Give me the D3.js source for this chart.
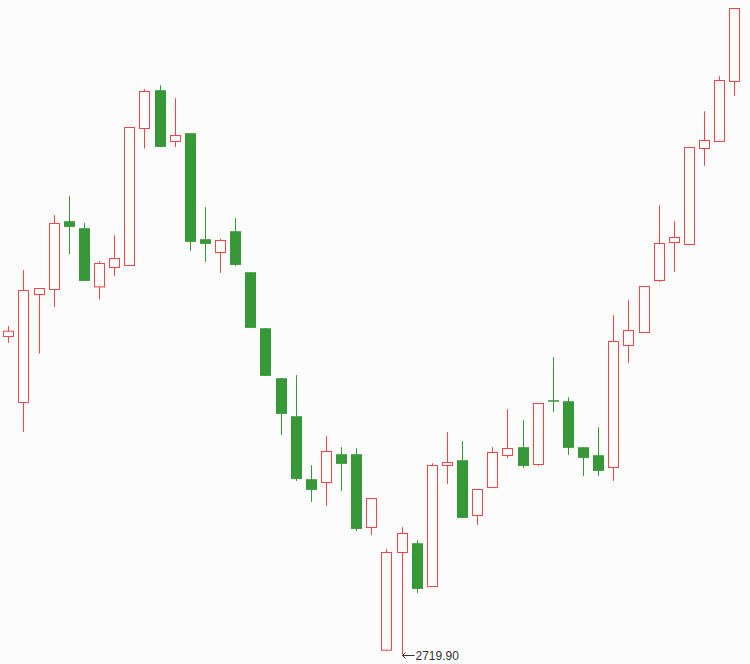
<!DOCTYPE html>
<html>
<head>
<meta charset="utf-8">
<script src="https://cdn.jsdelivr.net/npm/d3@7"></script>
<style>
  html, body { margin: 0; padding: 0; background: #fcfcfc; }
  svg { display: block; }
</style>
</head>
<body>
<svg id="chart"></svg>
<script>
// candle values
const opens = [3037.9, 2971.9, 3079.9, 3084.9, 3153.2, 3146.2, 3087.5, 3106.9, 3108.9, 3245.9,
  3284.2, 3232.9, 3241.2, 3135.2, 3121.9, 3143.2, 3102.2, 3046.2, 2996.2, 2958.2,
  2895.2, 2891.9, 2920.2, 2920.2, 2846.9, 2724.2, 2821.9, 2831.2, 2787.9, 2908.9,
  2914.2, 2858.9, 2886.9, 2918.9, 2927.2, 2909.9, 2974.2, 2973.2, 2927.2, 2919.2,
  2906.9, 3028.9, 3041.9, 3093.9, 3131.9, 3129.9, 3225.9, 3232.9, 3292.9];
const highs = [3048.2, 3104.2, 3085.9, 3159.2, 3178.2, 3151.5, 3113.2, 3139.2, 3246.9, 3285.2,
  3289.2, 3276.2, 3241.2, 3167.2, 3135.9, 3156.2, 3102.2, 3046.2, 2996.2, 2999.2,
  2909.2, 2938.2, 2927.2, 2926.2, 2875.9, 2825.2, 2847.2, 2834.2, 2911.2, 2942.2,
  2933.2, 2884.9, 2927.2, 2965.2, 2954.2, 2970.9, 3017.2, 2977.2, 2927.2, 2947.2,
  3059.2, 3074.2, 3087.9, 3169.2, 3153.2, 3226.9, 3263.2, 3298.2, 3365.9];
const lows = [3031.5, 2942.5, 3020.9, 3067.5, 3120.2, 3093.5, 3074.9, 3098.5, 3108.9, 3225.9,
  3227.5, 3227.5, 3123.5, 3112.5, 3101.5, 3108.5, 3046.5, 2998.5, 2939.5, 2893.5,
  2872.5, 2868.5, 2883.5, 2843.5, 2839.5, 2723.2, 2719.9, 2781.5, 2787.9, 2890.5,
  2856.5, 2849.5, 2886.9, 2916.5, 2906.5, 2908.5, 2962.5, 2919.5, 2898.5, 2898.5,
  2893.5, 3011.5, 3041.9, 3092.5, 3102.5, 3129.9, 3208.5, 3232.9, 3278.5];
const closes = [3043.2, 3083.9, 3085.9, 3150.9, 3147.5, 3093.5, 3110.9, 3115.9, 3246.9, 3282.9,
  3227.5, 3238.9, 3132.5, 3130.5, 3133.9, 3109.5, 3046.5, 2998.5, 2960.5, 2895.5,
  2884.5, 2922.9, 2910.5, 2845.5, 2875.9, 2821.9, 2840.9, 2785.5, 2908.9, 2911.9,
  2856.5, 2884.9, 2921.9, 2925.9, 2908.5, 2970.9, 2973.5, 2926.5, 2916.5, 2903.5,
  3032.9, 3043.9, 3087.9, 3130.9, 3136.9, 3226.9, 3233.9, 3293.9, 3365.9];

const width = 750;
const height = 664;

const UP = "#f94545";
const DOWN = "#379837";
const BG = "#fcfcfc";

const candles = opens.map((o, i) => ({
  i,
  open: o,
  high: highs[i],
  low: lows[i],
  close: closes[i],
}));

const svg = d3.select("#chart").attr("width", width).attr("height", height);

svg.append("rect").attr("width", width).attr("height", height).attr("fill", BG);

const x = d3
  .scalePoint()
  .domain(candles.map((d) => d.i))
  .range([8.3, 734.3]);

const y = d3
  .scaleLinear()
  .domain([d3.min(lows), d3.max(highs)])
  .range([654.5, 8.5]);

const px = (d) => Math.round(x(d.i)) + 0.5;

const g = svg.append("g");

// wicks
g.selectAll("line.wick")
  .data(candles)
  .join("line")
  .attr("class", "wick")
  .attr("x1", px)
  .attr("x2", px)
  .attr("y1", (d) => y(d.high))
  .attr("y2", (d) => y(d.low))
  .attr("stroke", (d) => (d.close >= d.open ? UP : DOWN))
  .attr("stroke-width", 1);

// up candles: hollow red
g.selectAll("rect.up")
  .data(candles.filter((d) => d.close >= d.open))
  .join("rect")
  .attr("class", "up")
  .attr("x", (d) => px(d) - 5)
  .attr("width", 10)
  .attr("y", (d) => y(d.close))
  .attr("height", (d) => Math.max(1, y(d.open) - y(d.close)))
  .attr("fill", BG)
  .attr("stroke", UP)
  .attr("stroke-width", 1);

// down candles: solid green
g.selectAll("rect.down")
  .data(candles.filter((d) => d.close < d.open))
  .join("rect")
  .attr("class", "down")
  .attr("x", (d) => px(d) - 5.5)
  .attr("width", 11)
  .attr("y", (d) => y(d.open))
  .attr("height", (d) => Math.max(1.5, y(d.close) - y(d.open)))
  .attr("fill", DOWN);

// lowest point marker
const lowest = candles.reduce((a, b) => (b.low < a.low ? b : a));
const lx = px(lowest);
const ly = Math.round(y(lowest.low));

svg.append("path")
  .attr("d", `M${lx + 12},${ly + 0.5}H${lx} M${lx + 3},${ly - 2.5}L${lx},${ly + 0.5}L${lx + 3},${ly + 3.5}`)
  .attr("fill", "none")
  .attr("stroke", "#333")
  .attr("stroke-width", 1);

svg.append("text")
  .attr("x", lx + 13)
  .attr("y", ly + 0.5)
  .attr("dy", "0.35em")
  .attr("font-family", "Liberation Sans, Arial, sans-serif")
  .attr("font-size", 12)
  .attr("fill", "#333")
  .text(d3.format(".2f")(lowest.low));
</script>
</body>
</html>
